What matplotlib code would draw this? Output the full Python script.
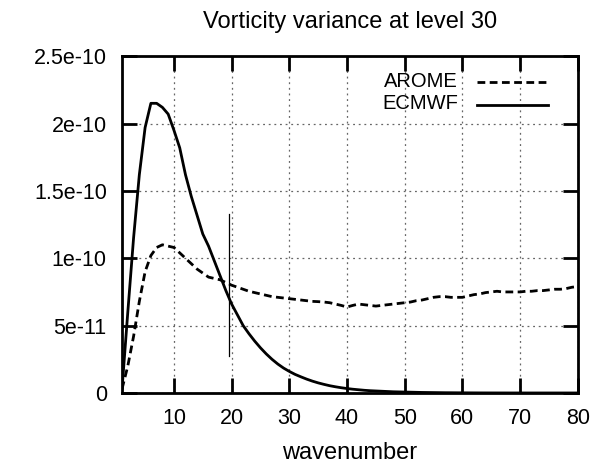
import matplotlib
matplotlib.use("Agg")
import matplotlib.pyplot as plt
import numpy as np

plt.rcParams["font.family"] = ["Liberation Sans", "DejaVu Sans"]

wavenumber = np.arange(1, 81)

arome = np.array([
    0.3, 2.0, 4.2, 6.8, 9.0, 10.2, 10.8, 11.0, 10.9, 10.8,
    10.4, 10.0, 9.6, 9.2, 8.9, 8.6, 8.5, 8.4, 8.2, 8.0,
    7.85, 7.7, 7.55, 7.45, 7.35, 7.25, 7.15, 7.1, 7.05, 7.0,
    6.95, 6.9, 6.85, 6.8, 6.78, 6.75, 6.7, 6.6, 6.5, 6.38,
    6.5, 6.6, 6.55, 6.5, 6.45, 6.5, 6.55, 6.6, 6.65, 6.7,
    6.75, 6.85, 6.9, 7.0, 7.1, 7.15, 7.15, 7.1, 7.1, 7.1,
    7.2, 7.3, 7.35, 7.45, 7.5, 7.55, 7.5, 7.5, 7.5, 7.5,
    7.55, 7.55, 7.6, 7.6, 7.65, 7.7, 7.7, 7.75, 7.85, 7.9,
]) * 1e-11

ecmwf = np.array([
    0.3, 6.0, 11.5, 16.2, 19.7, 21.5, 21.5, 21.2, 20.7, 19.5,
    18.2, 16.2, 14.6, 13.2, 11.8, 10.9, 9.8, 8.7, 7.6, 6.6,
    5.8, 5.0, 4.4, 3.85, 3.35, 2.9, 2.5, 2.15, 1.85, 1.6,
    1.38, 1.2, 1.03, 0.88, 0.75, 0.64, 0.54, 0.46, 0.39, 0.33,
    0.28, 0.24, 0.2, 0.17, 0.15, 0.13, 0.11, 0.09, 0.08, 0.07,
    0.06, 0.05, 0.04, 0.035, 0.03, 0.025, 0.02, 0.018, 0.015, 0.012,
    0.01, 0.008, 0.006, 0.005, 0.004, 0.003, 0.003, 0.002, 0.002, 0.002,
    0.001, 0.001, 0.001, 0.001, 0.001, 0.001, 0.001, 0.001, 0.001, 0.001,
]) * 1e-11

# thin vertical marker line
marker_x = 19.5
marker_y = (2.77e-11, 1.33e-10)

yticks = [0, 5e-11, 1e-10, 1.5e-10, 2e-10, 2.5e-10]
ytick_labels = ["0", "5e-11", "1e-10", "1.5e-10", "2e-10", "2.5e-10"]
xticks = [10, 20, 30, 40, 50, 60, 70, 80]

series = [("AROME", arome, (0, (2.8, 1.6))), ("ECMWF", ecmwf, "-")]

fig = plt.figure(figsize=(6.05, 4.76), dpi=100)
ax = fig.add_axes([0.2017, 0.1744, 0.7533, 0.7076])

for name, vals, ls in series:
    ax.plot(wavenumber, vals, color="black", lw=2.0, ls=ls)
ax.plot([marker_x, marker_x], marker_y, color="black", lw=0.9)

ax.set_xlim(1, 80)
ax.set_ylim(0, 2.5e-10)
ax.set_xticks(xticks)
ax.set_yticks(yticks)
ax.set_yticklabels(ytick_labels)
ax.grid(True, color="#666666", ls=(0, (1.5, 3)), lw=0.9)

for s in ax.spines.values():
    s.set_linewidth(2)
ax.tick_params(direction="in", length=11, width=2, top=True, right=True,
               labelsize=15.5, pad=11)

ax.set_xlabel("wavenumber", fontsize=17, labelpad=9)
ax.set_title("Vorticity variance at level 30", fontsize=17, pad=20)

# gnuplot-style key: text right-aligned, sample line to the right
key_y = [0.926, 0.860]
for (name, vals, ls), ky in zip(series, key_y):
    ax.text(0.737, ky, name, transform=ax.transAxes, ha="right",
            va="center", fontsize=14.5)
    ax.plot([0.778, 0.934], [ky - 0.004, ky - 0.004], transform=ax.transAxes,
            color="black", lw=2.0, ls=ls)

fig.savefig("out.png", dpi=100)
